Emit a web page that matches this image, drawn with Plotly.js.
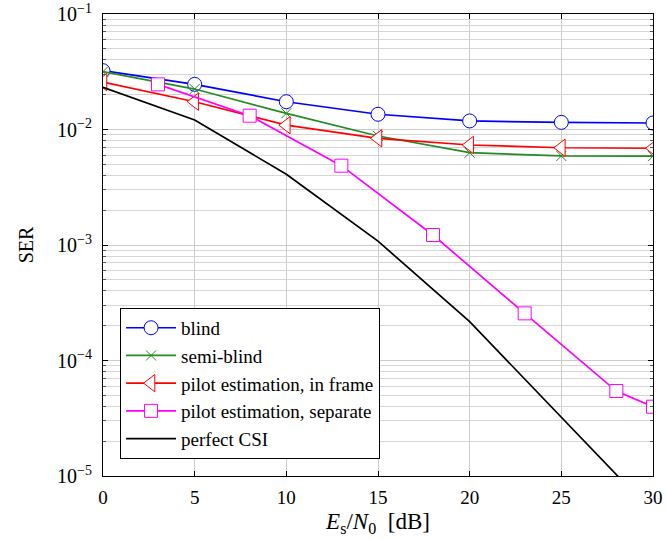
<!DOCTYPE html>
<html>
<head>
<meta charset="utf-8">
<script src="https://cdn.plot.ly/plotly-3.0.1.min.js"></script>
<style>html,body{margin:0;padding:0;background:#fff}#chart{width:667px;height:540px}</style>
</head>
<body>
<div id="chart"></div>
<script>
// Es/N0 [dB]
const snrMain = [0, 5, 10, 15, 20, 25, 30];
const snrSeparate = [3, 8, 13, 18, 23, 28, 30];

const serBlind = [0.0323, 0.0246, 0.0174, 0.01355, 0.01186, 0.01153, 0.01138];
const serSemiBlind = [0.0317, 0.0224, 0.0138, 0.00879, 0.00630, 0.00590, 0.00588];
const serPilotInFrame = [0.0257, 0.0174, 0.0109, 0.00839, 0.00734, 0.00695, 0.00688];
const serPilotSeparate = [0.0246, 0.01317, 0.00486, 0.00122, 0.000256, 0.0000544, 0.0000398];
const serPerfectCSI = [0.0232, 0.01207, 0.00410, 0.00108, 0.000217, 0.0000326, 0.0000048];

const seriesNames = ["blind", "semi-blind", "pilot estimation, in frame", "pilot estimation, separate", "perfect CSI"];

const yTickVals = [1e-5, 1e-4, 1e-3, 1e-2, 1e-1];
const yTickText = ["10<sup>\u22125</sup>", "10<sup>\u22124</sup>", "10<sup>\u22123</sup>", "10<sup>\u22122</sup>", "10<sup>\u22121</sup>"];
const xTickVals = [0, 5, 10, 15, 20, 25, 30];

const minorVals = [];
for (let e = -5; e < -1; e++) for (let m = 2; m <= 9; m++) minorVals.push(m * Math.pow(10, e));

const serif = "Liberation Serif, Times New Roman, serif";

const traces = [
  {x: snrMain, y: serBlind, name: seriesNames[0], mode: "lines+markers",
   line: {color: "#0000ff", width: 1.7},
   marker: {symbol: "circle", size: 14, color: "#ffffff", line: {color: "#0000ff", width: 1}}},
  {x: snrMain, y: serSemiBlind, name: seriesNames[1], mode: "lines+markers",
   line: {color: "#238b23", width: 1.7},
   marker: {symbol: "x-thin", size: 10, color: "#238b23", line: {color: "#238b23", width: 1}}},
  {x: snrMain, y: serPilotInFrame, name: seriesNames[2], mode: "lines+markers",
   line: {color: "#ff0000", width: 1.7},
   marker: {symbol: "triangle-left", size: 15, color: "#ffffff", line: {color: "#ff0000", width: 1}}},
  {x: snrSeparate, y: serPilotSeparate, name: seriesNames[3], mode: "lines+markers",
   line: {color: "#ff00ff", width: 1.7},
   marker: {symbol: "square", size: 13, color: "#ffffff", line: {color: "#ff00ff", width: 1}}},
  {x: snrMain, y: serPerfectCSI, name: seriesNames[4], mode: "lines",
   line: {color: "#000000", width: 1.7}}
];

const layout = {
  width: 667, height: 540,
  margin: {l: 103, r: 14, t: 14, b: 64},
  paper_bgcolor: "#ffffff", plot_bgcolor: "#ffffff",
  font: {family: serif, size: 19, color: "#000"},
  showlegend: true,
  legend: {x: 0.031, y: 0.037, xanchor: "left", yanchor: "bottom",
           bgcolor: "#ffffff", bordercolor: "#000", borderwidth: 1,
           font: {family: serif, size: 19}, tracegroupgap: 0, itemwidth: 50},
  xaxis: {
    range: [0, 30], tickmode: "array", tickvals: xTickVals,
    showgrid: true, gridcolor: "#cccccc", gridwidth: 1,
    showline: true, linecolor: "#000", linewidth: 1, mirror: "ticks",
    ticks: "inside", ticklen: 5, tickcolor: "#000",
    zeroline: false, ticklabelstandoff: 4,
    tickfont: {family: serif, size: 19},
    title: {text: "<i>E</i><sub>s</sub>/<i>N</i><sub>0</sub>\u00a0\u00a0[dB]", font: {family: serif, size: 23}, standoff: 6}
  },
  yaxis: {
    type: "log", range: [-5, -1], tickmode: "array", tickvals: yTickVals, ticktext: yTickText,
    showgrid: true, gridcolor: "#cccccc", gridwidth: 1,
    showline: true, linecolor: "#000", linewidth: 1, mirror: "ticks",
    ticks: "inside", ticklen: 5, tickcolor: "#000",
    zeroline: false, ticklabelstandoff: 6,
    tickfont: {family: serif, size: 20},
    minor: {tickmode: "array", tickvals: minorVals, ticks: "inside", ticklen: 3, tickcolor: "#555",
            showgrid: true, gridcolor: "#d6d6d6", gridwidth: 1},
    title: {text: "SER", font: {family: serif, size: 20}, standoff: 18}
  }
};

Plotly.newPlot("chart", traces, layout, {displayModeBar: false, staticPlot: true});
</script>
</body>
</html>
